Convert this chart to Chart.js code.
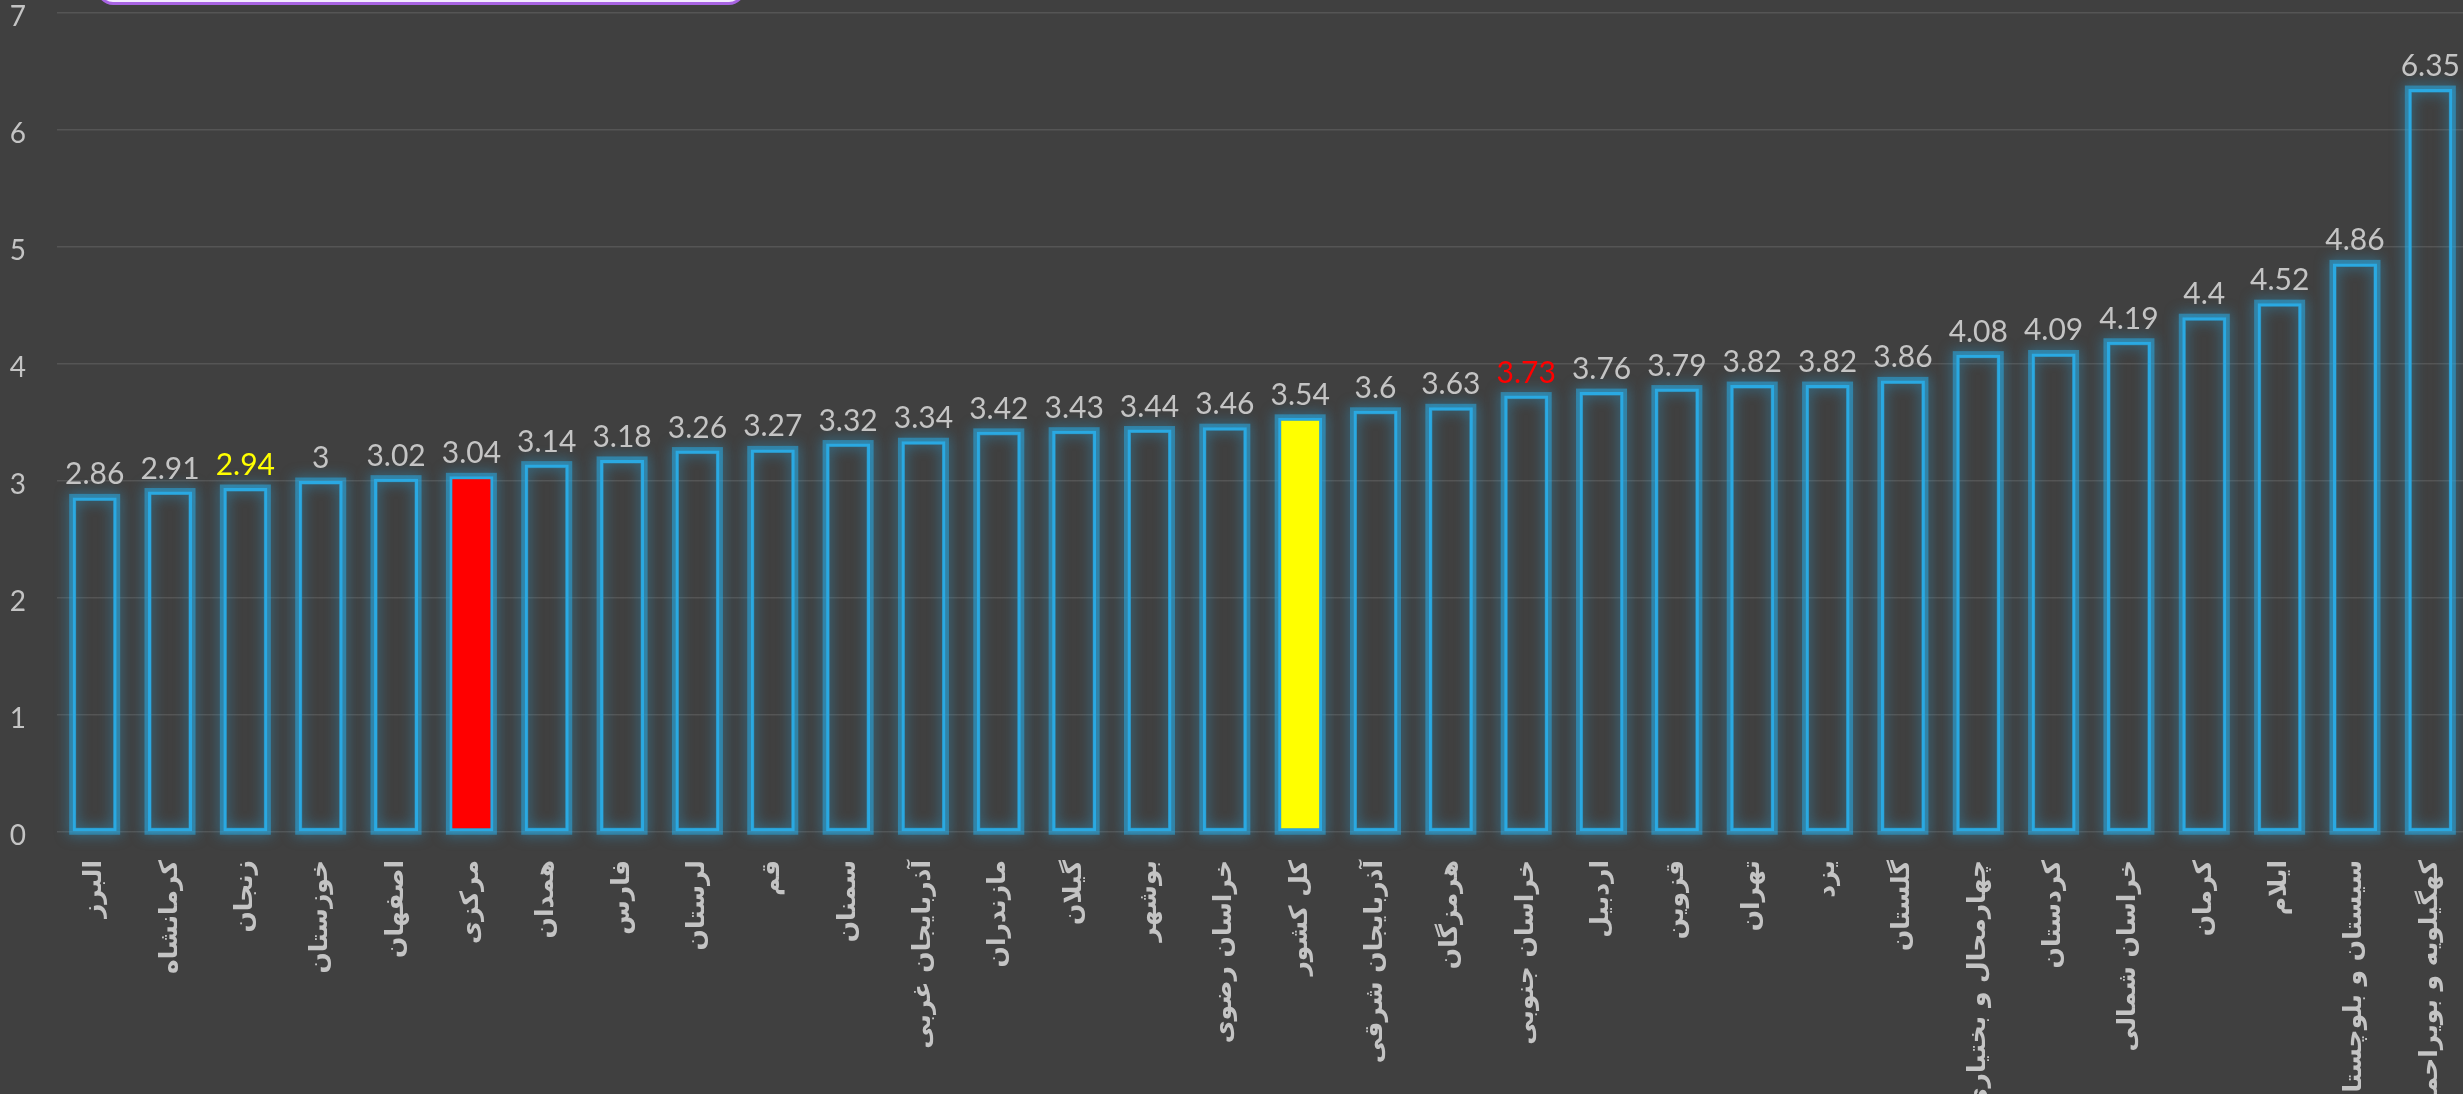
<!DOCTYPE html>
<html lang="fa">
<head>
<meta charset="utf-8">
<title>نرخ استان‌ها</title>
<script src="https://cdn.jsdelivr.net/npm/chart.js@4.4.1/dist/chart.umd.min.js"></script>
<style>
    html, body { margin: 0; padding: 0; background: #404040; overflow: hidden; }
    #wrap { position: relative; width: 2468px; height: 1094px; }
    #titleBox {
        position: absolute; left: 97px; top: -40px; width: 642px; height: 39px;
        border: 3px solid #a864e2; border-radius: 16px; background: #f4ecff;
    }
</style>
</head>
<body>
<div id="wrap">
    <canvas id="rateChart" width="2468" height="1094"></canvas>
    <div id="titleBox"></div>
</div>
<script>
"use strict";

// provinces, sorted from lowest to highest
const provinces = [
    "البرز", "کرمانشاه", "زنجان", "خوزستان", "اصفهان", "مرکزی", "همدان", "فارس",
    "لرستان", "قم", "سمنان", "آذربایجان غربی", "مازندران", "گیلان", "بوشهر", "خراسان رضوی",
    "کل کشور", "آذربایجان شرقی", "هرمزگان", "خراسان جنوبی", "اردبیل", "قزوین", "تهران", "یزد",
    "گلستان", "چهارمحال و بختیاری", "کردستان", "خراسان شمالی", "کرمان", "ایلام",
    "سیستان و بلوچستان", "کهگیلویه و بویراحمد"
];

const rates = [
    2.86, 2.91, 2.94, 3, 3.02, 3.04, 3.14, 3.18,
    3.26, 3.27, 3.32, 3.34, 3.42, 3.43, 3.44, 3.46,
    3.54, 3.6, 3.63, 3.73, 3.76, 3.79, 3.82, 3.82,
    3.86, 4.08, 4.09, 4.19, 4.4, 4.52,
    4.86, 6.35
];

const yTicks = [0, 1, 2, 3, 4, 5, 6, 7];

// highlighted bars and labels
const redBar = "مرکزی";
const yellowBar = "کل کشور";
const yellowLabel = "زنجان";
const redLabel = "خراسان جنوبی";

const BLUE = "#2aa9e2";
const TEXT = "#c4c4c4";

let fillColors = provinces.map(p => p === redBar ? "#ff0000" : (p === yellowBar ? "#ffff00" : "rgba(0,0,0,0)"));
let labelColors = provinces.map(p => p === yellowLabel ? "#ffff00" : (p === redLabel ? "#ff0000" : TEXT));

// soft blue glow behind every bar outline
const barGlow = {
    id: "barGlow",
    beforeDatasetDraw(chart, args) {
        let ctx = chart.ctx;
        ctx.save();
        ctx.shadowColor = "rgba(42,169,226,1)";
        ctx.shadowBlur = 14;
        ctx.strokeStyle = "rgba(42,169,226,0.55)";
        ctx.lineWidth = 7;
        args.meta.data.forEach(bar => {
            let p = bar.getProps(["x", "y", "base", "width"], true);
            ctx.strokeRect(p.x - p.width / 2, p.y, p.width, p.base - p.y);
        });
        ctx.restore();
    }
};

// value written above each bar
const valueLabels = {
    id: "valueLabels",
    afterDatasetsDraw(chart) {
        let ctx = chart.ctx;
        let meta = chart.getDatasetMeta(0);
        ctx.save();
        ctx.font = "30px Lato";
        ctx.textAlign = "center";
        ctx.textBaseline = "alphabetic";
        meta.data.forEach((bar, i) => {
            ctx.fillStyle = labelColors[i];
            ctx.fillText(String(rates[i]), bar.x, bar.y - 13);
        });
        ctx.restore();
    }
};

let ctx = document.getElementById("rateChart").getContext("2d");

new Chart(ctx, {
    type: "bar",
    data: {
        labels: provinces,
        datasets: [{
            data: rates,
            backgroundColor: fillColors,
            borderColor: BLUE,
            borderWidth: 3,
            borderSkipped: false,
            barPercentage: 0.584,
            categoryPercentage: 1
        }]
    },
    options: {
        responsive: false,
        animation: false,
        devicePixelRatio: 1,
        layout: { padding: { top: 13, left: 0, right: 0, bottom: 0 } },
        plugins: {
            legend: { display: false },
            tooltip: { enabled: false }
        },
        scales: {
            x: {
                grid: { display: false, drawTicks: false },
                border: { display: false },
                ticks: {
                    autoSkip: false,
                    minRotation: 90,
                    maxRotation: 90,
                    padding: 28,
                    color: TEXT,
                    font: { family: "DejaVu Sans", size: 25, weight: "bold" }
                },
                afterFit(scale) {
                    scale.height = 262;
                    scale.paddingLeft = 0;
                    scale.paddingRight = 0;
                }
            },
            y: {
                min: 0,
                max: 7,
                grid: { color: "#555555", lineWidth: 1.5, drawTicks: false },
                border: { display: false },
                afterBuildTicks(scale) {
                    scale.ticks = yTicks.map(v => ({ value: v }));
                },
                ticks: {
                    padding: 31,
                    labelOffset: 4,
                    color: TEXT,
                    font: { family: "Lato", size: 28 }
                },
                afterFit(scale) {
                    scale.width = 57;
                    scale.paddingTop = 0;
                    scale.paddingBottom = 0;
                }
            }
        }
    },
    plugins: [barGlow, valueLabels]
});
</script>
</body>
</html>
